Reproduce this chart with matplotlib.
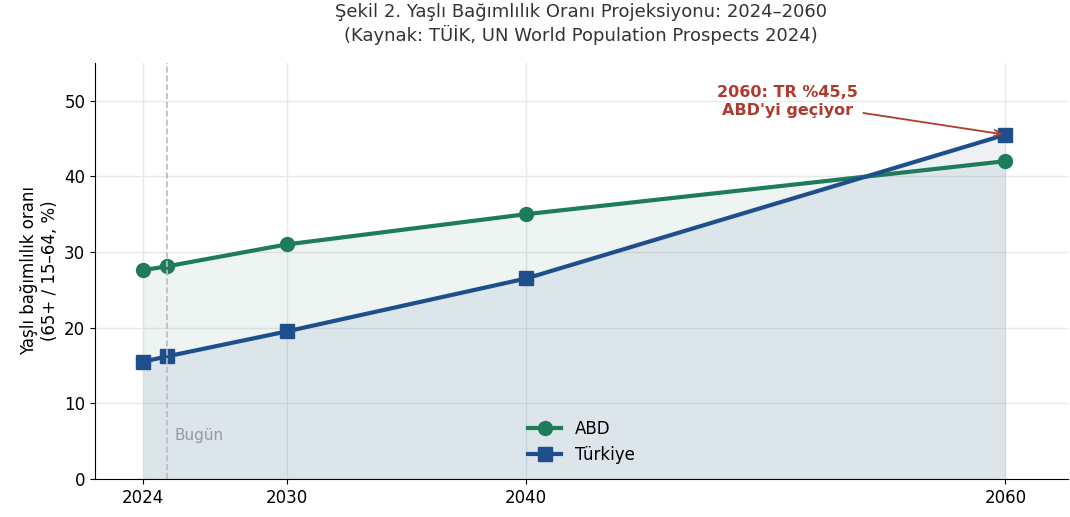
import numpy as np
import matplotlib.pyplot as plt

years = [2024, 2025, 2030, 2040, 2060]
abd = [27.6, 28.1, 31.0, 35.0, 42.0]
turkiye = [15.5, 16.2, 19.5, 26.5, 45.5]
xticks = [2024, 2030, 2040, 2060]

green = '#1e7b5c'
blue = '#1f4e8c'

fig = plt.figure(figsize=(10.7, 5.17), dpi=100)
ax = fig.add_axes([0.0888, 0.0735, 0.909, 0.805])

ax.fill_between(years, 0, abd, color=green, alpha=0.08, lw=0)
ax.fill_between(years, 0, turkiye, color=blue, alpha=0.08, lw=0)
ax.plot(years, abd, color=green, lw=3, marker='o', ms=10, label='ABD')
ax.plot(years, turkiye, color=blue, lw=3, marker='s', ms=10, label='Türkiye')

ax.axvline(2025, color='#bbbbbb', ls='--', lw=1.2)
ax.text(2025.3, 5.7, 'Bugün', color='#999999', fontsize=11, va='center')

ax.annotate("2060: TR %45,5\nABD'yi geçiyor", xy=(2060, 45.5), xytext=(2050.9, 49.9),
            ha='center', va='center', fontsize=11.5, fontweight='bold', color='#b03a2e',
            arrowprops=dict(arrowstyle='->', color='#b03a2e', lw=1.3))

ax.set_xlim(2022, 2062.6)
ax.set_ylim(0, 55)
ax.set_xticks(xticks)
ax.set_yticks([0, 10, 20, 30, 40, 50])
ax.tick_params(labelsize=12)
ax.grid(True, color='#e8e8e8', lw=1)
ax.set_axisbelow(True)
for s in ['top', 'right']:
    ax.spines[s].set_visible(False)
ax.set_ylabel('Yaşlı bağımlılık oranı\n(65+ / 15–64, %)', fontsize=12)
ax.set_title('Şekil 2. Yaşlı Bağımlılık Oranı Projeksiyonu: 2024–2060\n(Kaynak: TÜİK, UN World Population Prospects 2024)',
             fontsize=13, color='#333333', pad=16)
ax.legend(loc='lower center', frameon=False, fontsize=12)

fig.savefig('out.png', dpi=100)
